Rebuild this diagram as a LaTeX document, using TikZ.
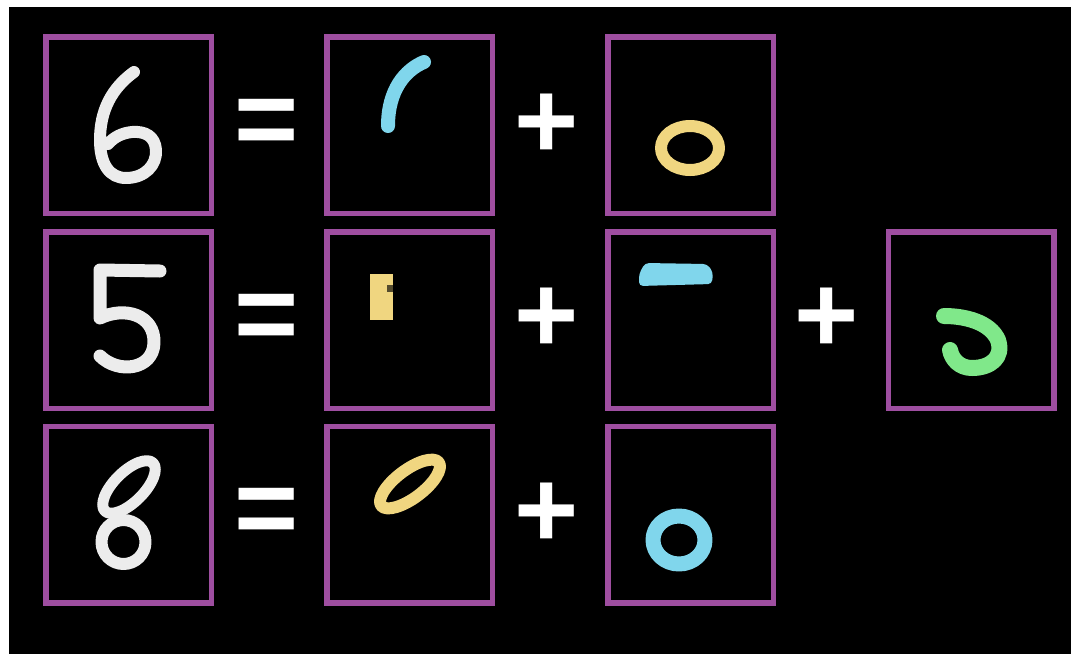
\documentclass[tikz,border=0pt]{standalone}
\usepackage{fontspec}
\newfontfamily\signfont{Liberation Sans}
\definecolor{framepurple}{RGB}{158,78,160}
\definecolor{inkwhite}{RGB}{236,236,236}
\definecolor{inkcyan}{RGB}{128,214,236}
\definecolor{inkyellow}{RGB}{240,214,128}
\definecolor{inkgreen}{RGB}{128,232,138}

\begin{document}
\begin{tikzpicture}[x=1pt, y=-1pt,
  cell/.style={draw=framepurple, line width=5.5pt, minimum width=165.5pt, minimum height=176.5pt, inner sep=0pt},
  sign/.style={text=white, inner sep=0pt, font=\signfont\bfseries\fontsize{110}{110}\selectfont},
  ink/.style={line width=#1, line cap=round, line join=round}
]
\useasboundingbox (0,0) rectangle (1071,654);
\fill[white] (0,0) rectangle (1071,654);
\fill[black] (9,7) rectangle (1071,654);
% frames
\node[cell] (c11) at (128.5,125) {};
\node[cell] (c12) at (409.5,125) {};
\node[cell] (c13) at (690.5,125) {};
\node[cell] (c21) at (128.5,320) {};
\node[cell] (c22) at (409.5,320) {};
\node[cell] (c23) at (690.5,320) {};
\node[cell] (c24) at (971,320) {};
\node[cell] (c31) at (128.5,514.5) {};
\node[cell] (c32) at (409.5,514.5) {};
\node[cell] (c33) at (690.5,514.5) {};
% signs
\node[sign] (eq1) at (267,128) {=};
\node[sign] (eq2) at (267,323) {=};
\node[sign] (eq3) at (267,517) {=};
\node[sign] (pl1) at (547,126) {+};
\node[sign] (pl2) at (547,320) {+};
\node[sign] (pl3) at (827,320) {+};
\node[sign] (pl4) at (547,515) {+};
% row 1: six
\draw[ink=12pt, inkwhite] (134,72) .. controls (112,88) and (100,110) .. (100,140)
  .. controls (100,165) and (110,178) .. (126,178) .. controls (145,178) and (157,165) .. (156,150)
  .. controls (155,136) and (145,131) .. (132,132) .. controls (122,133) and (114,137) .. (108,144);
\draw[ink=14pt, inkcyan] (424,62) .. controls (405,70) and (388,90) .. (388,126);
\draw[ink=12pt, inkyellow] (690,148) ellipse [x radius=29pt, y radius=22pt];
% row 2: five
\draw[ink=13pt, inkwhite] (160,271) -- (100,270) -- (100,318)
  .. controls (125,306) and (155,315) .. (154,343) .. controls (153,370) and (118,374) .. (100,356);
\fill[inkyellow] (370,274) rectangle (393,320);
\fill[black!65!inkyellow] (387,285) rectangle (393,292);
\fill[inkcyan, rounded corners=4pt] (645,263) -- (707,264) -- (713,272) -- (712,284) -- (639,286) -- (639,274) -- cycle;
\draw[ink=16pt, inkgreen] (944,316) .. controls (965,316) and (990,322) .. (998,340)
  .. controls (1004,358) and (990,368) .. (972,368) .. controls (960,368) and (952,360) .. (950,350);
% row 3: eight
\draw[ink=11pt, inkwhite, rotate around={45:(129,487)}] (129,487) ellipse [x radius=34pt, y radius=15pt];
\draw[ink=12pt, inkwhite] (123.5,542) ellipse [x radius=22pt, y radius=22pt];
\draw[ink=12pt, inkyellow, rotate around={37:(410,484)}] (410,484) ellipse [x radius=36pt, y radius=14pt];
\draw[ink=15pt, inkcyan] (679,540) ellipse [x radius=26pt, y radius=24pt];
\end{tikzpicture}
\end{document}
